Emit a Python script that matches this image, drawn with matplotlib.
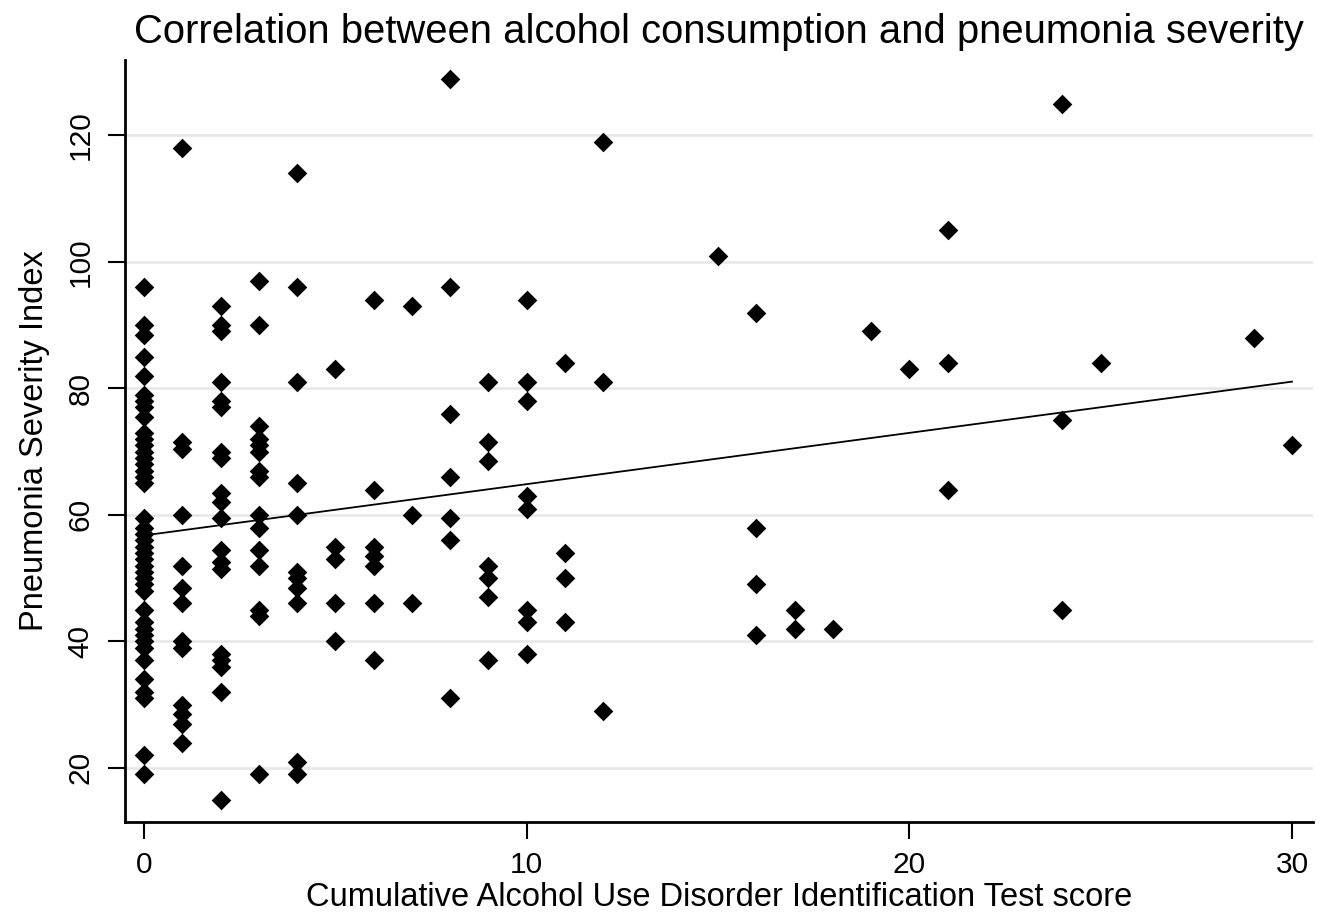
import numpy as np
import matplotlib.pyplot as plt

# AUDIT score -> Pneumonia Severity Index values
audit_0 = [96, 90, 88.5, 85, 82, 79, 78, 77, 75.5, 73, 72, 71, 70, 69, 68, 67, 66, 65,
           59.5, 58, 57, 56, 55, 54, 53, 52, 51, 50, 49, 48, 45, 43, 42, 41, 40, 39,
           37, 34, 32, 31, 22, 19]
audit_1 = [118, 71.5, 70.5, 60, 52, 48.5, 46, 40, 39, 30, 28.5, 27, 24]
audit_2 = [93, 90, 89, 81, 78, 77, 70, 69, 63.5, 62, 59.5, 54.5, 52.5, 51.5, 38, 37, 36, 32, 15]
audit_3 = [97, 90, 74, 72, 71, 70, 67, 66, 60, 58, 54.5, 52, 45, 44, 19]
audit_4 = [114, 96, 81, 65, 60, 51, 50, 48.5, 46, 21, 19]
audit_5 = [83, 55, 53, 46, 40]
audit_6 = [94, 64, 55, 53.5, 52, 46, 37]
audit_7 = [93, 60, 46]
audit_8 = [129, 96, 76, 66, 59.5, 56, 31]
audit_9 = [81, 71.5, 68.5, 52, 50, 47, 37]
audit_10 = [94, 81, 78, 63, 61, 45, 43, 38]
audit_11 = [84, 54, 50, 43]
audit_12 = [119, 81, 29]
audit_15 = [101]
audit_16 = [92, 58, 49, 41]
audit_17 = [45, 42]
audit_18 = [42]
audit_19 = [89]
audit_20 = [83]
audit_21 = [105, 84, 64]
audit_24 = [125, 75, 45]
audit_25 = [84]
audit_29 = [88]
audit_30 = [71]

groups = {0: audit_0, 1: audit_1, 2: audit_2, 3: audit_3, 4: audit_4, 5: audit_5,
          6: audit_6, 7: audit_7, 8: audit_8, 9: audit_9, 10: audit_10, 11: audit_11,
          12: audit_12, 15: audit_15, 16: audit_16, 17: audit_17, 18: audit_18,
          19: audit_19, 20: audit_20, 21: audit_21, 24: audit_24, 25: audit_25,
          29: audit_29, 30: audit_30}

x = np.concatenate([[k] * len(v) for k, v in groups.items()]).astype(float)
y = np.concatenate([v for v in groups.values()]).astype(float)

# linear fit
slope, intercept = np.polyfit(x, y, 1)
xfit = np.array([0, 30])

plt.rcParams['font.family'] = ['Liberation Sans', 'DejaVu Sans']

fig, ax = plt.subplots(figsize=(13.29, 9.16), dpi=100)
fig.subplots_adjust(left=0.094, right=0.988, bottom=0.103, top=0.935)

ax.scatter(x, y, marker='D', s=100, color='black', zorder=3, linewidths=0)
ax.plot(xfit, intercept + slope * xfit, color='black', lw=1.3, zorder=2)

ax.set_xlim(-0.5, 30.55)
ax.set_ylim(11.5, 132)
ax.set_xticks([0, 10, 20, 30])
ax.set_yticks([20, 40, 60, 80, 100, 120])
ax.yaxis.grid(True, color='#e6e6e6', lw=1.8)
ax.set_axisbelow(True)

for side in ['top', 'right']:
    ax.spines[side].set_visible(False)
for side in ['left', 'bottom']:
    ax.spines[side].set_linewidth(2)

ax.tick_params(axis='both', direction='out', length=12, width=1.5, labelsize=21.5)
ax.tick_params(axis='x', pad=9)
ax.tick_params(axis='y', pad=10)
for lbl in ax.get_yticklabels():
    lbl.set_rotation(90)
    lbl.set_va('center')

ax.set_xlabel('Cumulative Alcohol Use Disorder Identification Test score', fontsize=23.5, labelpad=2)
ax.set_ylabel('Pneumonia Severity Index', fontsize=23.5, labelpad=12)
ax.set_title('Correlation between alcohol consumption and pneumonia severity', fontsize=28.8, pad=12)

fig.savefig('out.png', dpi=100)
